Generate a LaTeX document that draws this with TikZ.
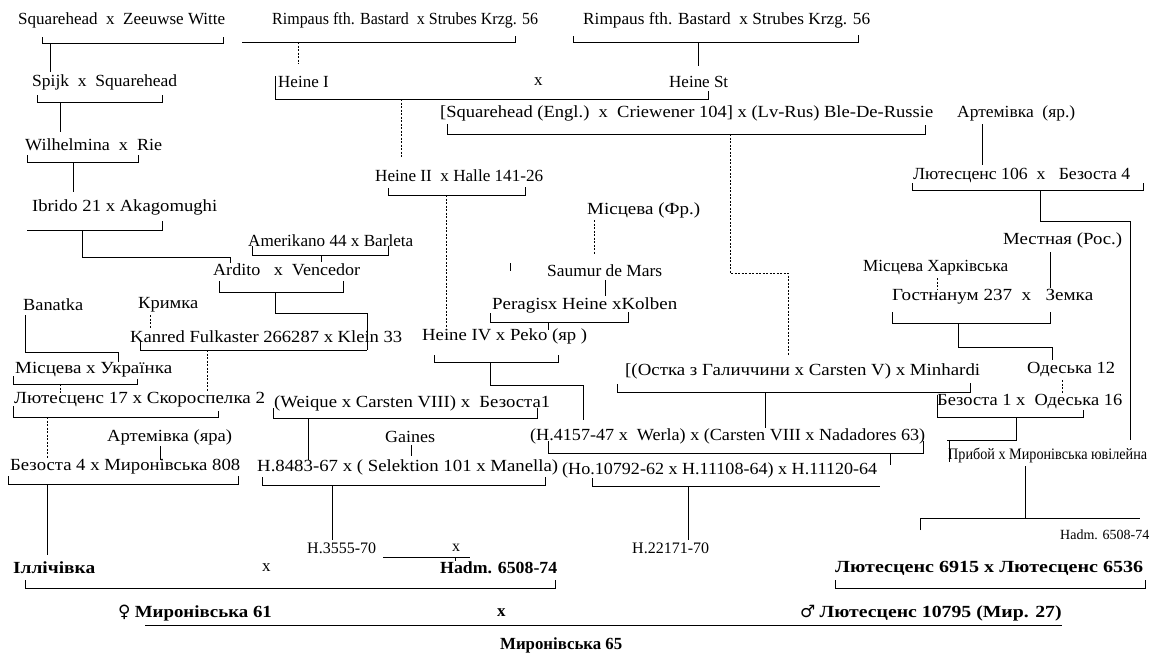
\documentclass[tikz,border=0pt]{standalone}
\usepackage{fontspec}
\usepackage{graphicx}
\setmainfont{Liberation Serif}
\newfontfamily\symfont{DejaVu Sans}
\newcommand\fw[2]{\resizebox{#1pt}{\height}{#2}}
\begin{document}
\begin{tikzpicture}[x=1pt,y=-1pt,
  t/.style={anchor=west,inner sep=0pt,font=\fontsize{17}{19}\selectfont},
  tb/.style={t,font=\fontsize{17}{19}\selectfont\bfseries},
  ts/.style={anchor=west,inner sep=0pt,font=\fontsize{16}{18}\selectfont},
  ln/.style={line width=0.8pt},
  dl/.style={ln,dash pattern=on 2pt off 1.5pt}]
\useasboundingbox (0,0) rectangle (1158,659);
% ---- texts ----
\node[t] (n1) at (18,20) {\fw{207}{Squarehead\ \ x\ \ Zeeuwse Witte}};
\node[t] (n2) at (272,20) {\fw{266}{Rimpaus fth. Bastard\ \ x Strubes Krzg. 56}};
\node[t] (n3) at (583,20) {\fw{287}{Rimpaus fth. Bastard\ \ x Strubes Krzg. 56}};
\node[t] (n4) at (32,82) {\fw{145}{Spijk\ \ x\ \ Squarehead}};
\node[t] (n5) at (278,82) {Heine I};
\node[t] (n6) at (534,82) {x};
\node[t] (n7) at (669,82) {\fw{59}{Heine St}};
\node[t] (n8) at (440,113) {\fw{493}{[Squarehead (Engl.)\ \ x\ \ Criewener 104] x (Lv-Rus) Ble-De-Russie}};
\node[t] (n9) at (957,113) {\fw{118}{Артемівка\ \ (яр.)}};
\node[t] (n10) at (25,145) {\fw{137}{Wilhelmina\ \ x\ \ Rie}};
\node[t] (n11) at (375,176) {\fw{168}{Heine II\ \ x Halle 141-26}};
\node[t] (n12) at (913,175) {\fw{217}{Лютесценс 106\ \ x\ \ \ Безоста 4}};
\node[t] (n13) at (32,207) {\fw{185}{Ibrido 21 x Akagomughi}};
\node[t] (n14) at (587,210) {\fw{113}{Місцева (Фр.)}};
\node[t] (n15) at (1003,240) {\fw{119}{Местная (Рос.)}};
\node[t] (n16) at (248,241) {\fw{165}{Amerikano 44 x Barleta}};
\node[t] (n17) at (213,270) {\fw{147}{Ardito\ \ \ x\ \ Vencedor}};
\node[t] (n18) at (547,271) {\fw{115}{Saumur de Mars}};
\node[t] (n19) at (863,268) {\fw{145}{Місцева Харківська}};
\node[t] (n20) at (23,305) {\fw{60}{Banatka}};
\node[t] (n21) at (138,305) {\fw{60}{Кримка}};
\node[t] (n22) at (492,305) {\fw{185}{Peragisx Heine xKolben}};
\node[t] (n23) at (892,297) {\fw{201}{Гостнанум 237\ \ x\ \ \ Земка}};
\node[t] (n24) at (130,337) {\fw{272}{Kanred Fulkaster 266287 x Klein 33}};
\node[t] (n25) at (422,336) {\fw{165}{Heine IV x Peko (яр )}};
\node[t] (n26) at (15,370) {\fw{157}{Місцева x Українка}};
\node[t] (n27) at (625,371) {\fw{355}{[(Остка з Галиччини x Carsten V) x Minhardi}};
\node[t] (n28) at (1027,370) {\fw{88}{Одеська 12}};
\node[t] (n29) at (14,400) {\fw{251}{Лютесценс 17 x Скороспелка 2}};
\node[t] (n30) at (274,403) {\fw{276}{(Weique x Carsten VIII) x\ \ Безоста1}};
\node[t] (n31) at (937,402) {\fw{185}{Безоста 1 x\ \ Одеська 16}};
\node[t] (n32) at (107,437) {\fw{125}{Артемівка (яра)}};
\node[t] (n33) at (385,437) {\fw{50}{Gaines}};
\node[t] (n34) at (530,436) {\fw{395}{(H.4157-47 x\ \ Werla) x (Carsten VIII x Nadadores 63)}};
\node[t] (n35) at (10,467) {\fw{230}{Безоста 4 x Миронівська 808}};
\node[t] (n36) at (257,467) {\fw{301}{H.8483-67 x ( Selektion 101 x Manella)}};
\node[t] (n37) at (562,470) {\fw{315}{(Ho.10792-62 x H.11108-64) x H.11120-64}};
\node[ts] (n38) at (948,455) {\fw{199}{Прибой x Миронівська ювілейна}};
\node[ts] (n39) at (307,548) {H.3555-70};
\node[ts] (n40) at (452,548) {x};
\node[ts] (n41) at (632,548) {H.22171-70};
\node[anchor=west,inner sep=0pt,font=\fontsize{14}{16}\selectfont] (n42) at (1060,535) {Hadm. 6508-74};
\node[tb] (n43) at (13,568) {\fw{82}{Іллічівка}};
\node[t] (n44) at (262,568) {x};
\node[tb] (n45) at (440,568) {\fw{117}{Hadm. 6508-74}};
\node[tb] (n46) at (835,568) {\fw{308}{Лютесценс 6915 x Лютесценс 6536}};
\node[tb] (n47) at (118,613) {{\symfont\mdseries ♀} \fw{137}{Миронівська 61}};
\node[tb] (n48) at (497,613) {x};
\node[tb] (n49) at (800,613) {{\symfont\mdseries ♂} \fw{242}{Лютесценс 10795 (Мир. 27)}};
\node[anchor=west,inner sep=0pt,font=\fontsize{17}{19}\selectfont\bfseries] (n50) at (500,645) {\fw{122}{Миронівська 65}};
% ---- connectors ----
\draw[ln] (42,37)--(42,43)--(223,43)--(223,37);
\draw[ln] (50,43)--(50,72);
\draw[ln] (242,42)--(515,42)--(515,36);
\draw[dl] (298,42)--(298,64);
\draw[ln] (573,36)--(573,42)--(858,42)--(858,35);
\draw[ln] (698,42)--(698,66);
\draw[ln] (275,76)--(275,99)--(708,99)--(708,91);
\draw[dl] (401,99)--(401,158);
\draw[ln] (37,95)--(37,102)--(162,102)--(162,95);
\draw[ln] (60,102)--(60,132);
\draw[ln] (447,124)--(447,134)--(925,134)--(925,125);
\draw[dl] (730,134)--(730,273)--(788,273)--(788,356);
\draw[ln] (982,124)--(982,165);
\draw[ln] (27,155)--(27,162)--(138,162)--(138,155);
\draw[ln] (73,162)--(73,192);
\draw[ln] (388,188)--(388,195)--(525,195)--(525,187);
\draw[dl] (446,195)--(446,327);
\draw[ln] (912,183)--(912,190)--(1143,190)--(1143,183);
\draw[ln] (1040,190)--(1040,221)--(1130,221)--(1130,440);
\draw[ln] (27,230)--(162,230)--(162,221);
\draw[ln] (82,230)--(82,257)--(230,257)--(230,263);
\draw[ln] (252,246)--(252,255)--(388,255)--(388,246);
\draw[ln] (321,255)--(321,262);
\draw[ln] (219,281)--(219,292)--(343,292)--(343,281);
\draw[ln] (275,292)--(275,313)--(367,313)--(367,350);
\draw[dl] (594,220)--(594,254);
\draw[ln] (605,280)--(605,296);
\draw[ln] (510,263)--(510,271);
\draw[ln] (1050,252)--(1050,288);
\draw[dl] (937,278)--(937,289);
\draw[ln] (892,312)--(892,323)--(1050,323)--(1050,312);
\draw[ln] (958,323)--(958,347)--(1052,347)--(1052,360);
\draw[ln] (25,315)--(25,352)--(118,352)--(118,362);
\draw[dl] (150,315)--(150,328);
\draw[ln] (490,313)--(490,322)--(628,322)--(628,312);
\draw[ln] (548,322)--(548,330);
\draw[ln] (140,342)--(140,350)--(367,350);
\draw[dl] (207,350)--(207,392);
\draw[ln] (434,355)--(434,362)--(558,362)--(558,355);
\draw[ln] (490,362)--(490,385)--(583,385)--(583,420);
\draw[ln] (13,376)--(13,384)--(137,384)--(137,379);
\draw[dl] (60,384)--(60,393);
\draw[ln] (617,384)--(617,392)--(970,392)--(970,383);
\draw[ln] (765,392)--(765,428);
\draw[dl] (1062,380)--(1062,394);
\draw[ln] (13,406)--(13,417)--(218,417)--(218,411);
\draw[dl] (47,417)--(47,458);
\draw[ln] (273,408)--(273,418)--(537,418)--(537,408);
\draw[ln] (308,418)--(308,460);
\draw[ln] (937,395)--(937,417)--(1083,417)--(1083,410);
\draw[ln] (1016,417)--(1016,440)--(947,440);
\draw[ln] (949,440)--(949,462);
\draw[ln] (160,446)--(160,460);
\draw[ln] (411,445)--(411,456);
\draw[ln] (548,441)--(548,453)--(923,453)--(923,441);
\draw[ln] (890,453)--(890,465);
\draw[ln] (8,476)--(8,484)--(238,484)--(238,476);
\draw[ln] (47,484)--(47,555);
\draw[ln] (262,477)--(262,485)--(545,485)--(545,477);
\draw[ln] (332,485)--(332,540);
\draw[ln] (592,478)--(592,486)--(880,486);
\draw[ln] (688,486)--(688,540);
\draw[ln] (1025,466)--(1025,518);
\draw[ln] (920,530)--(920,518)--(1140,518);
\draw[ln] (383,557)--(470,557);
\draw[ln] (455,557)--(455,561);
\draw[ln] (25,580)--(25,588)--(555,588)--(555,580);
\draw[ln] (835,580)--(835,588)--(1145,588)--(1145,580);
\draw[ln] (145,625)--(1062,625);
\end{tikzpicture}
\end{document}
